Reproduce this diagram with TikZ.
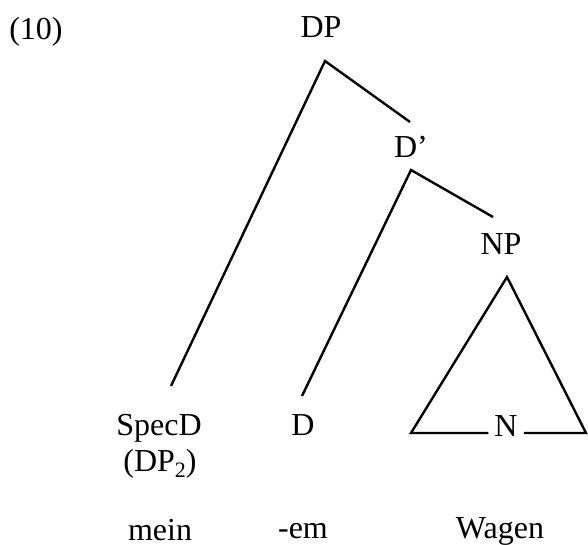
\documentclass[tikz,border=0pt]{standalone}
\usepackage{fontspec}
\setmainfont{Liberation Serif}
\usetikzlibrary{calc}

\begin{document}
\begin{tikzpicture}[x=0.5pt, y=-0.5pt, line width=1.2pt, font=\fontsize{16}{19}\selectfont,
        lbl/.style={anchor=base, inner sep=2.5pt}]
        \useasboundingbox (0,0) rectangle (588,545);

        % example number
        \node[lbl] (exno) at (36,40) {(10)};

        % category labels of the tree
        \node[lbl] (dp) at (321,38) {DP};
        \node[lbl] (dbar) at (411,158) {D'};
        \node[lbl] (np) at (501,254) {NP};
        \node[lbl] (specd) at (159,435) {SpecD};
        \node[lbl] (dptwo) at (160,471) {(DP\raisebox{-3pt}{\fontsize{11}{11}\selectfont 2})};
        \node[lbl] (d) at (303,435) {D};
        \node[lbl] (n) at (506,436) {N};

        % words below the tree
        \node[lbl] (mein) at (160,540) {mein};
        \node[lbl] (em) at (303,538) {-em};
        \node[lbl] (wagen) at (500,538) {Wagen};

        % branch points and branch ends
        \coordinate (dptop) at (325,61);
        \coordinate (dbartop) at (411,170);
        \coordinate (specend) at (171,386);
        \coordinate (dbarend) at (410,122);
        \coordinate (dend) at (302,396);
        \coordinate (npend) at (493,217);

        % DP -> SpecD and D'
        \draw (specend) -- (dptop) -- (dbarend);
        % D' -> D and NP
        \draw (dend) -- (dbartop) -- (npend);

        % triangle under NP, broken by N
        \coordinate (tritop) at (507,277);
        \coordinate (trileft) at (411,433);
        \coordinate (triright) at (586,433);
        \draw (trileft -| n.west) -- (trileft) -- (tritop) -- (triright) -- (triright -| n.east);
\end{tikzpicture}
\end{document}
